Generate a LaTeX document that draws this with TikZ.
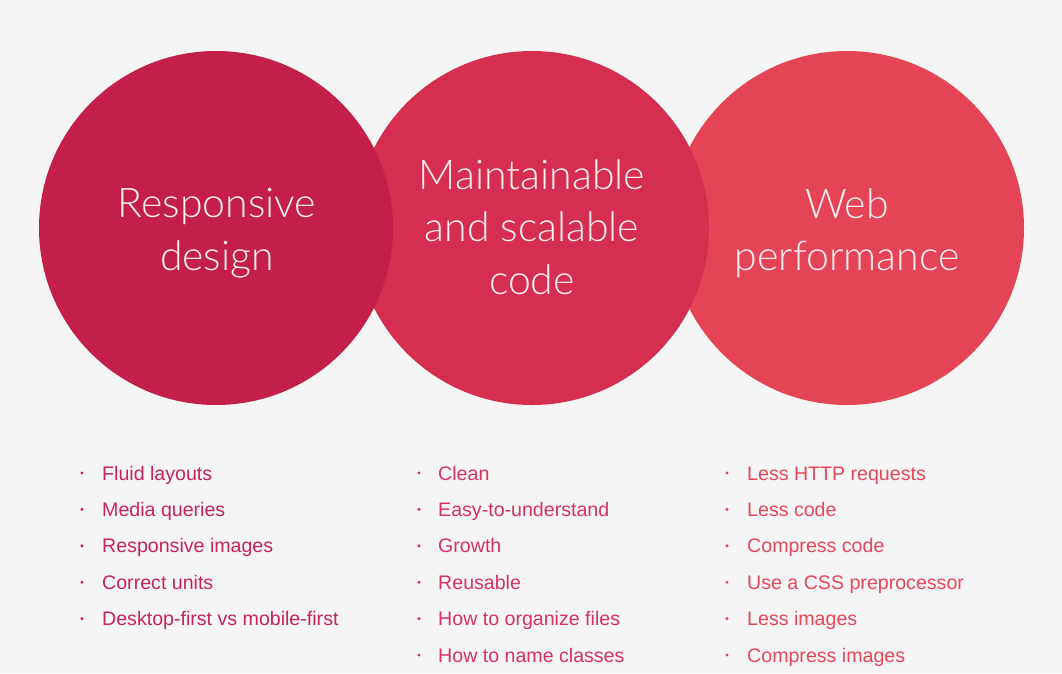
\documentclass[tikz,border=0pt]{standalone}
\usepackage{fontspec}
\setmainfont{Liberation Sans}
\newfontfamily\titlefont{Lato Light}
\definecolor{bg}{RGB}{245,245,245}
\definecolor{resp}{RGB}{196,30,74}
\definecolor{maint}{RGB}{214,46,80}
\definecolor{perf}{RGB}{229,68,86}
\definecolor{respText}{RGB}{200,36,90}
\definecolor{maintText}{RGB}{216,50,95}
\definecolor{perfText}{RGB}{232,70,90}
\definecolor{titleText}{RGB}{251,238,242}
\begin{document}
\begin{tikzpicture}[x=1pt,y=-1pt,
  bubble/.style={circle, inner sep=0pt, minimum size=354pt, draw=none},
  title/.style={text=titleText, font=\titlefont\fontsize{41}{52.5}\selectfont, align=center, inner sep=0pt},
  item/.style={anchor=base west, inner sep=0pt, font=\fontsize{19.6}{24}\selectfont}]
  % page background
  \fill[bg] (0,0) rectangle (1062,673);
  \path[use as bounding box] (0,0) rectangle (1062,673);

  % three overlapping bubbles, left one on top
  \node[bubble, fill=perf]  (perfC)  at (847,228) {};
  \node[bubble, fill=maint] (maintC) at (532,228) {};
  \node[bubble, fill=resp]  (respC)  at (216,228) {};

  \node[title] (respT)  at (217,233) {Responsive\\design};
  \node[title] (maintT) at (532,227) {Maintainable\\and scalable\\code};
  \node[title] (perfT)  at (847,233) {Web\\performance};

  % bullet lists under each bubble
  \foreach \t [count=\i] in {Fluid layouts, Media queries, Responsive images, Correct units, Desktop-first vs mobile-first} {
    \node[item, text=respText] (respI\i) at (102,{480+(\i-1)*36.4}) {\t};
    \fill[respText] (82,{473+(\i-1)*36.4}) circle (1.7);
  }
  \foreach \t [count=\i] in {Clean, Easy-to-understand, Growth, Reusable, How to organize files, How to name classes} {
    \node[item, text=maintText] (maintI\i) at (438,{480+(\i-1)*36.4}) {\t};
    \fill[maintText] (419,{473+(\i-1)*36.4}) circle (1.7);
  }
  \foreach \t [count=\i] in {Less HTTP requests, Less code, Compress code, Use a CSS preprocessor, Less images, Compress images} {
    \node[item, text=perfText] (perfI\i) at (747,{480+(\i-1)*36.4}) {\t};
    \fill[perfText] (727,{473+(\i-1)*36.4}) circle (1.7);
  }
\end{tikzpicture}
\end{document}
